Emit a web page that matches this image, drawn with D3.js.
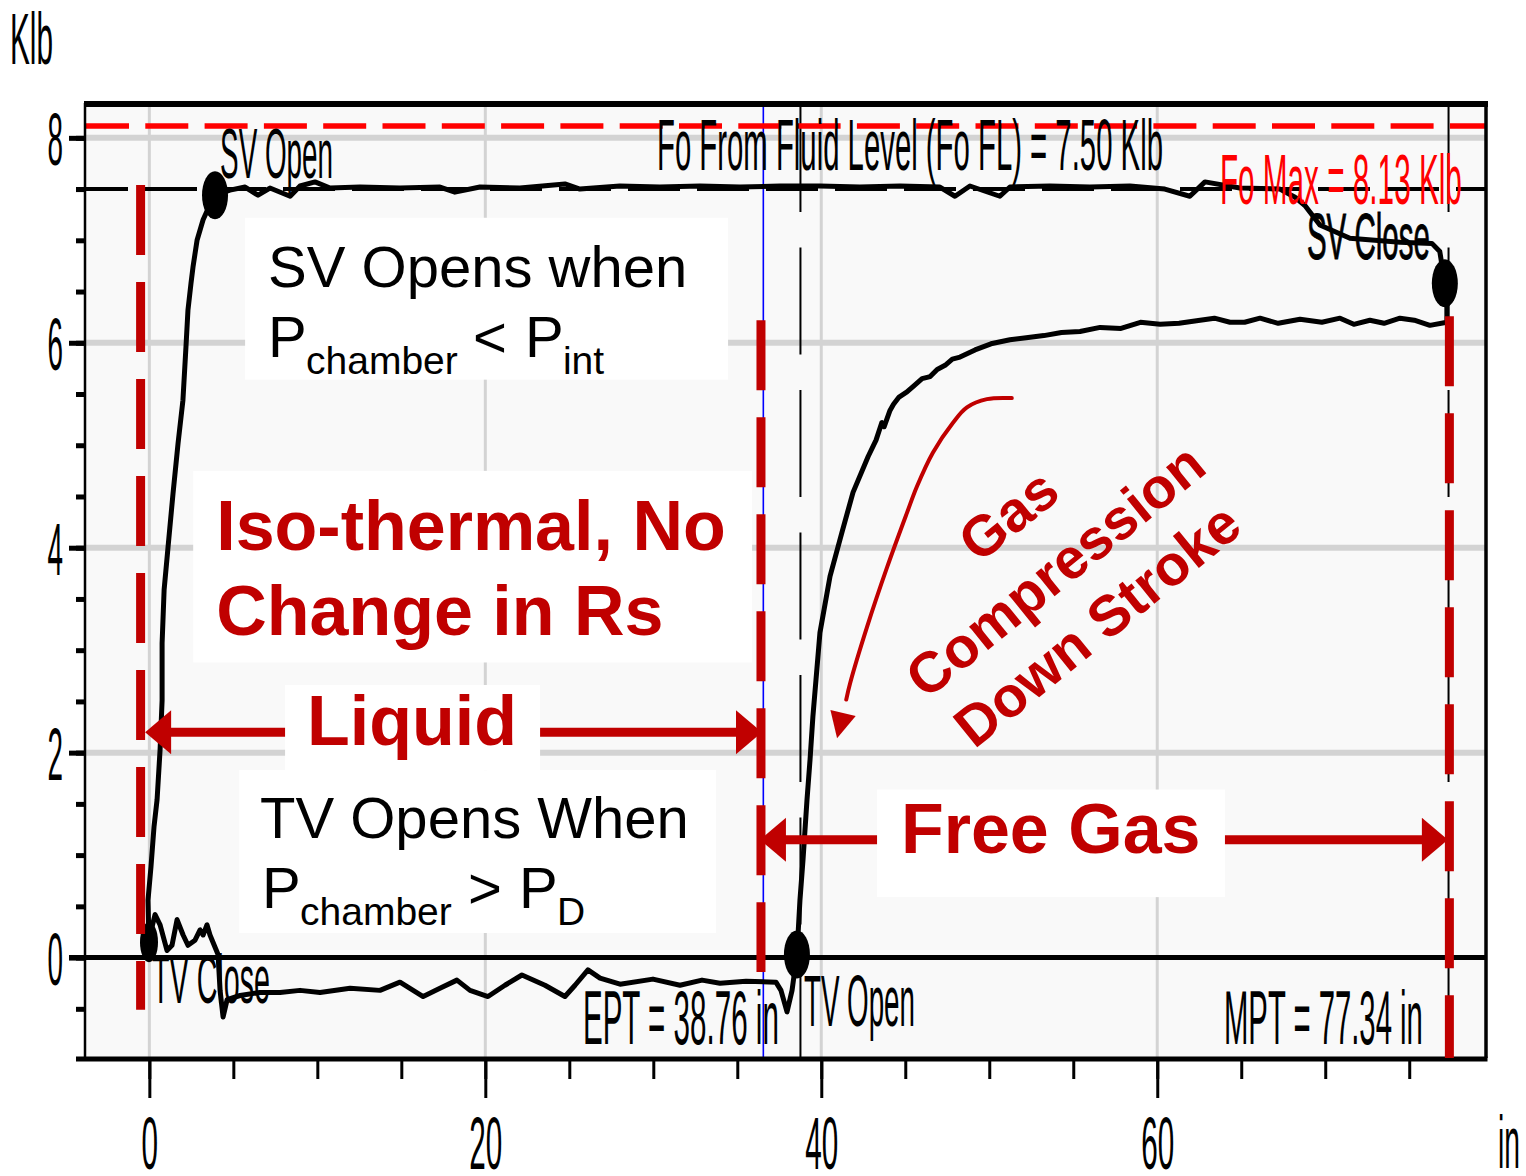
<!DOCTYPE html>
<html><head><meta charset="utf-8">
<script src="https://cdn.jsdelivr.net/npm/d3@7"></script>
<style>
html,body{margin:0;padding:0;background:#fff;}
svg{display:block;}
</style></head><body>
<svg id="chart" width="1526" height="1176"></svg>
<script>
// ---- Pump card: plunger position (in) vs load (Klb) ----
const upstrokeRise = [[-0.02,0.15],[-0.08,0.56],[0.10,0.89],[0.28,1.28],[0.46,1.54],[0.64,2.03],[0.76,2.51],[0.76,3.07],[0.88,3.59],[1.11,4.00],[1.41,4.53],[1.71,5.02],[2.00,5.44],[2.18,5.96],[2.30,6.32],[2.48,6.58],[2.60,6.74],[2.84,7.00],[3.20,7.20],[3.61,7.35],[3.91,7.44]];
const upstrokeTop = [[4.80,7.49],[5.70,7.52],[6.47,7.44],[7.18,7.51],[8.38,7.43],[8.97,7.53],[9.86,7.57],[10.76,7.51],[12.54,7.52],[14.92,7.51],[17.30,7.52],[18.19,7.47],[19.68,7.52],[22.06,7.51],[24.74,7.55],[25.63,7.50],[28.01,7.53],[30.39,7.52],[32.78,7.53],[35.16,7.52],[37.54,7.53],[39.92,7.53],[42.30,7.52],[44.68,7.53],[47.06,7.52],[47.96,7.43],[48.85,7.53],[50.63,7.43],[51.23,7.52],[53.61,7.53],[55.99,7.52],[58.37,7.53],[60.45,7.50],[61.94,7.43],[62.84,7.57],[64.92,7.51],[67.30,7.50],[68.20,7.42]];
const svCloseDrop = [[68.79,7.34],[69.68,7.15],[71.47,7.02],[74.45,6.98],[76.35,6.97],[76.82,6.89],[77.12,6.58],[77.24,6.37],[77.24,6.20]];
const downstrokeTop = [[76.23,6.17],[75.30,6.22],[74.45,6.24],[73.50,6.19],[72.66,6.22],[71.70,6.18],[70.88,6.24],[69.80,6.20],[68.50,6.23],[67.20,6.19],[66.12,6.24],[65.20,6.20],[64.33,6.20],[63.40,6.24],[62.55,6.22],[61.30,6.19],[60.17,6.18],[59.00,6.20],[57.84,6.14],[56.60,6.15],[55.40,6.11],[54.30,6.10],[53.25,6.07],[52.20,6.05],[51.23,6.03],[50.10,5.99],[49.15,5.93],[48.26,5.86],[47.80,5.84],[47.37,5.78],[46.90,5.74],[46.48,5.67],[46.00,5.65],[45.58,5.59],[45.10,5.52],[44.63,5.47],[44.30,5.40],[44.09,5.34],[43.74,5.18],[43.60,5.22],[43.26,5.05],[42.79,4.89]];
const downstrokeFall = [[41.89,4.54],[41.23,4.15],[40.52,3.72],[39.92,3.17],[39.50,2.35],[39.33,1.93],[39.15,1.54],[38.91,0.95],[38.73,0.56],[38.55,0.03]];
const downstrokeBottom = [[38.26,-0.32],[37.96,-0.53],[37.60,-0.32],[37.30,-0.24],[35.52,-0.23],[33.97,-0.25],[32.90,-0.22],[31.59,-0.27],[29.98,-0.21],[28.02,-0.26],[26.83,-0.20],[26.11,-0.12],[25.34,-0.27],[24.74,-0.38],[23.55,-0.27],[22.18,-0.17],[21.17,-0.27],[20.16,-0.38],[19.09,-0.32],[18.31,-0.22],[17.30,-0.30],[16.30,-0.38],[14.92,-0.24],[13.73,-0.32],[11.95,-0.30],[10.16,-0.34],[8.97,-0.32],[7.78,-0.34],[6.59,-0.34],[5.40,-0.37],[4.63,-0.41],[4.39,-0.58],[4.21,-0.32],[4.09,0.03],[3.61,0.22],[3.43,0.32],[3.20,0.22],[3.02,0.27],[2.72,0.17],[2.30,0.12],[2.01,0.22],[1.65,0.37],[1.35,0.12],[1.05,0.07],[0.64,0.32],[0.34,0.42],[0.04,0.22],[-0.02,0.15]];

// valve events on the card
const valveNames = ["SV Open","SV Close","TV Open","TV Close"];
const valveX = [3.91, 77.12, 38.55, -0.02];
const valveY = [7.44, 6.58, 0.03, 0.15];

// reference values
const foFluidLevel = 7.50;   // Klb
const foMax = 8.13;          // Klb
const ept = 38.76;           // in
const mpt = 77.34;           // in
const cursorPos = 36.55;     // in

// axis ticks
const xTickValues = [0, 20, 40, 60];
const xMinorTicks = d3.range(0, 79, 5);
const yTickValues = [0, 2, 4, 6, 8];
const yMinorTicks = d3.range(-0.5, 8.01, 0.5);

// annotation geometry (data units)
const zoneBoundsX = [-0.52, 36.41, 77.39];
const zoneBoundsTop = [7.54, 6.22, 6.26];
const zoneBoundsBottom = [-0.51, -0.14, -0.98];
const liquidArrow = {x0: -0.25, x1: 36.47, y: 2.20};
const freeGasArrow = {x0: 36.35, x1: 77.30, y: 1.15};
const compressionCurve = [[51.34,5.46],[49.86,5.45],[48.67,5.37],[47.84,5.22],[46.65,4.93],[45.70,4.60],[45.10,4.34],[43.92,3.81],[42.73,3.23],[41.72,2.68],[40.94,2.14]];
const noteBoxes = [[5.70,34.45,7.22,5.64],[2.61,35.88,4.75,2.88],[8.08,23.26,2.66,1.83],[5.35,33.73,1.83,0.24],[43.32,64.03,1.64,0.59]];

// ---- layout ----
const svg = d3.select("#chart");
const L = 85, R = 1486, T = 103, B = 1058;
const x = d3.scaleLinear().domain([-3.83, 79.57]).range([L, R]);
const y = d3.scaleLinear().domain([-0.98, 8.34]).range([B, T]);

const narrow = "'Liberation Sans Narrow','Liberation Sans',Arial,sans-serif";
const sans = "'Liberation Sans',Arial,Helvetica,sans-serif";
const darkRed = "#c00000";

// squeeze a text element horizontally to a target width (tall, condensed look)
function squeeze(sel, width){
  sel.each(function(){
    const t = d3.select(this);
    const px = +t.attr("x") || 0, py = +t.attr("y") || 0;
    const w = this.getComputedTextLength();
    t.attr("x",0).attr("y",0)
     .attr("transform",`translate(${px},${py}) scale(${(typeof width==="function"?width(t.datum()):width)/w},1)`);
  });
  return sel;
}

svg.append("defs").append("clipPath").attr("id","plotClip")
  .append("rect").attr("x",L).attr("y",T).attr("width",R-L).attr("height",B-T);

// plot background
svg.append("rect").attr("x",L).attr("y",T).attr("width",R-L).attr("height",B-T).attr("fill","#f9f9f9");

const plot = svg.append("g").attr("clip-path","url(#plotClip)");

// grid
plot.selectAll(".hgrid").data(yTickValues.filter(d=>d!==0)).join("line")
  .attr("x1",L).attr("x2",R).attr("y1",d=>y(d)).attr("y2",d=>y(d))
  .attr("stroke","#d3d3d3").attr("stroke-width",6);
plot.selectAll(".vgrid").data(xTickValues).join("line")
  .attr("x1",d=>x(d)).attr("x2",d=>x(d)).attr("y1",T).attr("y2",B)
  .attr("stroke","#d3d3d3").attr("stroke-width",3);

// cursor, EPT and MPT markers
plot.append("line").attr("x1",x(cursorPos)).attr("x2",x(cursorPos)).attr("y1",T).attr("y2",B)
  .attr("stroke","#0000ff").attr("stroke-width",1.6);
plot.selectAll(".ptline").data([ept, mpt]).join("line")
  .attr("x1",d=>x(d)).attr("x2",d=>x(d)).attr("y1",T+2).attr("y2",B)
  .attr("stroke","#000").attr("stroke-width",2).attr("stroke-dasharray","107,35.5");

// Fo fluid level and Fo max lines
svg.append("line").attr("x1",76).attr("x2",R).attr("y1",y(foFluidLevel)).attr("y2",y(foFluidLevel))
  .attr("stroke","#000").attr("stroke-width",4).attr("stroke-dasharray","52,17");
plot.append("line").attr("x1",L+1).attr("x2",R).attr("y1",y(foMax)+1.5).attr("y2",y(foMax)+1.5)
  .attr("stroke","#ff0000").attr("stroke-width",5.5).attr("stroke-dasharray","43,16.3");

// zero load line
svg.append("line").attr("x1",69).attr("x2",R).attr("y1",y(0)).attr("y2",y(0))
  .attr("stroke","#000").attr("stroke-width",5);

// card trace
const card = [].concat(upstrokeRise, upstrokeTop, svCloseDrop, downstrokeTop, downstrokeFall, downstrokeBottom);
const line = d3.line().x(d=>x(d[0])).y(d=>y(d[1]));
plot.append("path").attr("d",line(card)).attr("fill","none")
  .attr("stroke","#000").attr("stroke-width",5).attr("stroke-linejoin","round");

// valve markers
plot.selectAll(".valve").data(valveX).join("ellipse")
  .attr("cx",d=>x(d)).attr("cy",(d,i)=>y(valveY[i]))
  .attr("rx",(d,i)=>i===3?9:13).attr("ry",(d,i)=>i===3?20:24).attr("fill","#000");

// condensed chart labels
function narrowText(g, txt, xd, yd, size, len, color){
  const t = g.append("text").attr("x",x(xd)).attr("y",y(yd))
    .attr("font-family",narrow).attr("font-size",size).attr("fill",color||"#000").text(txt);
  squeeze(t, len);
  return t;
}
narrowText(svg, valveNames[0], 4.21, 7.61, 70, 113);
narrowText(svg, `Fo From Fluid Level (Fo FL) = ${foFluidLevel.toFixed(2)} Klb`, 30.22, 7.69, 72, 506);
narrowText(svg, `Fo Max = ${foMax.toFixed(2)} Klb`, 63.73, 7.35, 70, 242, "#ff0000");
narrowText(svg, valveNames[1], 68.91, 6.82, 64, 123).attr("stroke","#000").attr("stroke-width",1);
narrowText(svg, valveNames[3], 0.16, -0.44, 68, 118);
narrowText(svg, `EPT = ${ept.toFixed(2)} in`, 25.81, -0.84, 76, 196);
narrowText(svg, valveNames[2], 38.97, -0.67, 72, 111);
narrowText(svg, `MPT = ${mpt.toFixed(2)} in`, 63.97, -0.84, 76, 199);

// frame
svg.append("line").attr("x1",L-1).attr("x2",R+2).attr("y1",T+1).attr("y2",T+1).attr("stroke","#000").attr("stroke-width",6);
svg.append("line").attr("x1",L).attr("x2",L).attr("y1",T).attr("y2",B).attr("stroke","#000").attr("stroke-width",2.5);
svg.append("line").attr("x1",R).attr("x2",R).attr("y1",T).attr("y2",B).attr("stroke","#000").attr("stroke-width",3.5);
svg.append("line").attr("x1",76).attr("x2",R+1.5).attr("y1",B+1).attr("y2",B+1).attr("stroke","#000").attr("stroke-width",5);

// y axis
const yMinor = svg.append("g").attr("transform",`translate(${L},0)`)
  .call(d3.axisLeft(y).tickValues(yMinorTicks).tickSize(9).tickFormat(""));
const yMajor = svg.append("g").attr("transform",`translate(${L},0)`)
  .call(d3.axisLeft(y).tickValues(yTickValues).tickSize(16).tickPadding(6).tickFormat(d3.format("d")));
[yMinor, yMajor].forEach(g=>{
  g.select(".domain").remove();
  g.selectAll(".tick line").attr("stroke","#000").attr("stroke-width",5);
});
yMajor.selectAll(".tick text").attr("font-family",narrow).attr("font-size",74).attr("fill","#000")
  .attr("dy","0.36em");
squeeze(yMajor.selectAll(".tick text"), d=>String(d).length*15.5);

// x axis
const xMinor = svg.append("g").attr("transform",`translate(0,${B+1})`)
  .call(d3.axisBottom(x).tickValues(xMinorTicks).tickSize(20).tickFormat(""));
const xMajor = svg.append("g").attr("transform",`translate(0,${B+1})`)
  .call(d3.axisBottom(x).tickValues(xTickValues).tickSize(39).tickPadding(18).tickFormat(d3.format("d")));
[xMinor, xMajor].forEach(g=>{
  g.select(".domain").remove();
  g.selectAll(".tick line").attr("stroke","#000").attr("stroke-width",3);
});
xMajor.selectAll(".tick text").attr("font-family",narrow).attr("font-size",74).attr("fill","#000");
squeeze(xMajor.selectAll(".tick text"), d=>String(d).length*16.5);

// axis units
squeeze(svg.append("text").attr("x",10).attr("y",64).attr("font-family",narrow).attr("font-size",72).text("Klb"), 43);
squeeze(svg.append("text").attr("x",1498).attr("y",1168).attr("font-family",narrow).attr("font-size",74).text("in"), 22);

// ---- annotation overlay ----
const notes = svg.append("g");

// zone boundaries
notes.selectAll(".zone").data(zoneBoundsX).join("line")
  .attr("x1",d=>x(d)).attr("x2",d=>x(d))
  .attr("y1",(d,i)=>y(zoneBoundsTop[i])).attr("y2",(d,i)=>y(zoneBoundsBottom[i]))
  .attr("stroke",darkRed).attr("stroke-width",9).attr("stroke-dasharray","70,27");

// double-headed arrows
function doubleArrow(a){
  const yy = y(a.y), xa = x(a.x0), xb = x(a.x1), hl = 26, hw = 22;
  notes.append("line").attr("x1",xa+hl-2).attr("x2",xb-hl+2).attr("y1",yy).attr("y2",yy)
    .attr("stroke",darkRed).attr("stroke-width",9);
  notes.append("path").attr("d",`M${xa},${yy}L${xa+hl},${yy-hw}L${xa+hl},${yy+hw}Z`).attr("fill",darkRed);
  notes.append("path").attr("d",`M${xb},${yy}L${xb-hl},${yy-hw}L${xb-hl},${yy+hw}Z`).attr("fill",darkRed);
}
doubleArrow(liquidArrow);
doubleArrow(freeGasArrow);

// curved arrow along the gas compression
const curveLine = d3.line().x(d=>x(d[0])).y(d=>y(d[1])).curve(d3.curveCatmullRom);
const cEnd = compressionCurve[compressionCurve.length-1], cPrev = compressionCurve[compressionCurve.length-2];
notes.append("path").attr("d",curveLine(compressionCurve.slice(0,-1).concat([[ (cEnd[0]*0.3+cPrev[0]*0.7), (cEnd[1]*0.3+cPrev[1]*0.7)]])))
  .attr("fill","none").attr("stroke",darkRed).attr("stroke-width",4).attr("stroke-linecap","round");
{
  const tx = x(cEnd[0]), ty = y(cEnd[1]), px = x(cPrev[0]), py = y(cPrev[1]);
  const ang = Math.atan2(ty-py, tx-px), hl = 26, hw = 13;
  const bx = tx - hl*Math.cos(ang), by = ty - hl*Math.sin(ang);
  const nx = -Math.sin(ang), ny = Math.cos(ang);
  notes.append("path").attr("d",`M${tx},${ty}L${bx+nx*hw},${by+ny*hw}L${bx-nx*hw},${by-ny*hw}Z`).attr("fill",darkRed);
}

// white note boxes
notes.selectAll(".box").data(noteBoxes).join("rect")
  .attr("x",d=>x(d[0])).attr("y",d=>y(d[2]))
  .attr("width",d=>x(d[1])-x(d[0])).attr("height",d=>y(d[3])-y(d[2]))
  .attr("fill","#ffffff");

function noteText(txt, xd, yd, size, opts){
  opts = opts || {};
  return notes.append("text").attr("x",x(xd)).attr("y",y(yd))
    .attr("font-family",sans).attr("font-size",size)
    .attr("font-weight",opts.bold?"bold":"normal").attr("fill",opts.color||"#000")
    .attr("text-anchor",opts.anchor||"start").text(txt);
}
// SV condition
noteText("SV Opens when", 7.07, 6.54, 58);
noteText("P", 7.07, 5.86, 58);
noteText("chamber", 9.33, 5.70, 39);
noteText("<", 19.26, 5.86, 58);
noteText("P", 22.36, 5.86, 58);
noteText("int", 24.62, 5.70, 39);
// TV condition
noteText("TV Opens When", 6.59, 1.17, 58);
noteText("P", 6.71, 0.48, 58);
noteText("chamber", 8.97, 0.32, 39);
noteText(">", 18.97, 0.48, 58);
noteText("P", 22.01, 0.48, 58);
noteText("D", 24.27, 0.32, 39);
// red callouts
noteText("Iso-thermal, No", 3.98, 3.98, 70, {bold:true, color:darkRed});
noteText("Change in Rs", 3.98, 3.15, 70, {bold:true, color:darkRed});
noteText("Liquid", 9.39, 2.07, 70, {bold:true, color:darkRed});
noteText("Free Gas", 44.74, 1.02, 70, {bold:true, color:darkRed});

const gasLines = [["Gas",51.12,4.32],["Compression",53.91,3.78],["Down Stroke",56.41,3.25]];
gasLines.forEach(g=>{
  notes.append("text").attr("transform",`translate(${x(g[1])},${y(g[2])}) rotate(-39)`)
    .attr("font-family",sans).attr("font-size",57).attr("font-weight","bold").attr("fill",darkRed)
    .attr("text-anchor","middle").attr("dominant-baseline","central").text(g[0]);
});
</script>
</body></html>
